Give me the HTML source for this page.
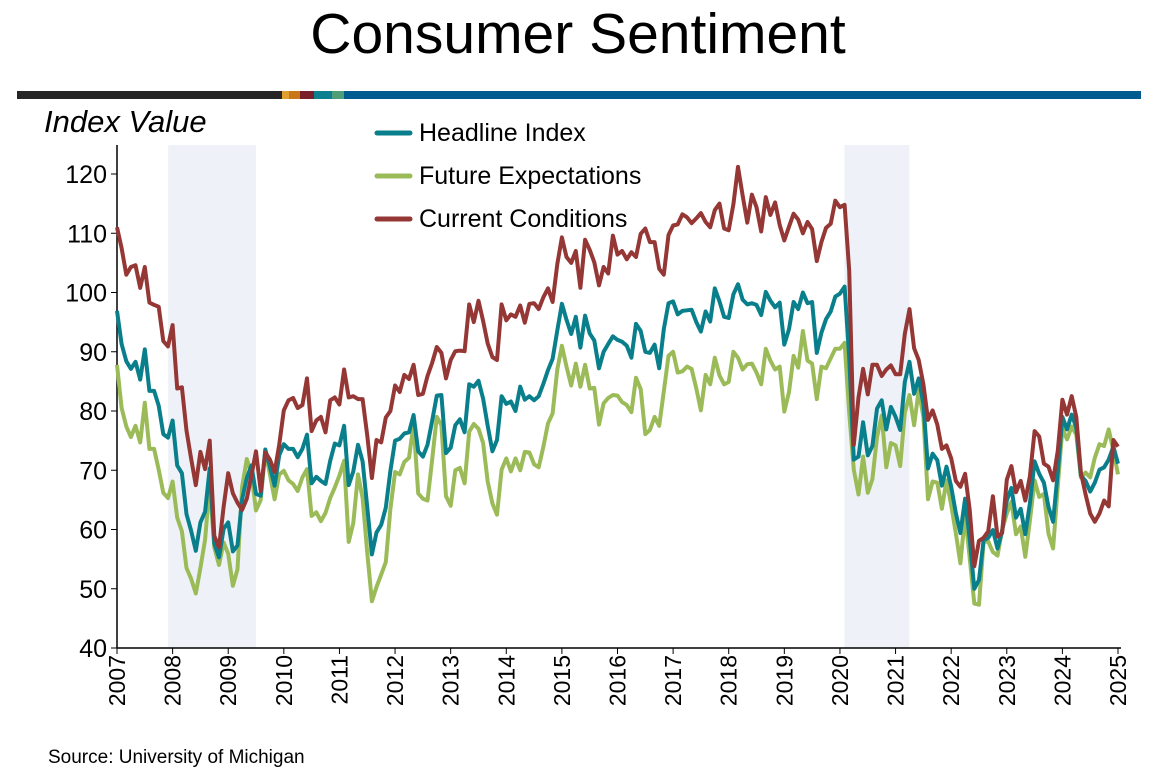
<!DOCTYPE html>
<html><head><meta charset="utf-8"><style>
body{margin:0;background:#fff;font-family:"Liberation Sans",Arial,sans-serif}
svg text{font-family:"Liberation Sans",Arial,sans-serif}
</style></head><body>
<svg id="c" width="1149" height="773" xmlns="http://www.w3.org/2000/svg">
<text x="578" y="53" font-size="57" text-anchor="middle">Consumer Sentiment</text>
<g>
<rect x="17" y="91" width="265" height="8" fill="#262626"/>
<rect x="282" y="91" width="7" height="8" fill="#e0a030"/>
<rect x="289" y="91" width="11" height="8" fill="#c87818"/>
<rect x="300" y="91" width="14" height="8" fill="#7a1e2a"/>
<rect x="314" y="91" width="18" height="8" fill="#0a8090"/>
<rect x="332" y="91" width="12" height="8" fill="#4f9e78"/>
<rect x="344" y="91" width="797" height="8" fill="#005b8e"/>
</g>
<text x="44" y="132" font-size="31" font-style="italic">Index Value</text>
<g id="shade"></g><g id="axes"></g><g id="lines"></g>
<g>
<g><line x1="377" y1="133" x2="410" y2="133" stroke="#0a7f8c" stroke-width="5" stroke-linecap="round"/><text x="419" y="141" font-size="25">Headline Index</text></g>
<g><line x1="377" y1="176" x2="410" y2="176" stroke="#9bbb59" stroke-width="5" stroke-linecap="round"/><text x="419" y="184" font-size="25">Future Expectations</text></g>
<g><line x1="377" y1="219" x2="410" y2="219" stroke="#953735" stroke-width="5" stroke-linecap="round"/><text x="419" y="227" font-size="25">Current Conditions</text></g>
</g>
<text x="48" y="763" font-size="19">Source: University of Michigan</text>
</svg>
<script>
const yTicks=[40,50,60,70,80,90,100,110,120];
const years=[2007,2008,2009,2010,2011,2012,2013,2014,2015,2016,2017,2018,2019,2020,2021,2022,2023,2024,2025];
const recessions=[[2007.92,2009.5],[2020.08,2021.25]];
const headline=[96.9,91.3,88.4,87.1,88.3,85.3,90.4,83.4,83.4,80.9,76.1,75.5,
78.4,70.8,69.5,62.6,59.8,56.4,61.2,63.0,70.3,57.6,55.3,60.1,
61.2,56.3,57.3,65.1,68.7,70.8,66.0,65.7,73.5,70.6,67.4,72.5,
74.4,73.6,73.6,72.2,73.6,76.0,67.8,68.9,68.2,67.7,71.6,74.5,
74.2,77.5,67.5,69.8,74.3,71.5,63.7,55.8,59.5,60.8,63.7,69.9,
75.0,75.3,76.2,76.4,79.3,73.2,72.3,74.3,78.3,82.6,82.7,72.9,
73.8,77.6,78.6,76.4,84.5,84.1,85.1,82.1,77.5,73.2,75.1,82.5,
81.2,81.6,80.0,84.1,81.9,82.5,81.8,82.5,84.6,86.9,88.8,93.6,
98.1,95.4,93.0,95.9,90.7,96.1,93.1,91.9,87.2,90.0,91.3,92.6,
92.0,91.7,91.0,89.0,94.7,93.5,90.0,89.8,91.2,87.2,93.8,98.2,
98.5,96.3,96.9,97.0,97.1,95.0,93.4,96.8,95.1,100.7,98.5,95.9,
95.7,99.7,101.4,98.8,98.0,98.2,97.9,96.2,100.1,98.6,97.5,98.3,
91.2,93.8,98.4,97.2,100.0,98.2,98.4,89.8,93.2,95.5,96.8,99.3,
99.8,101.0,89.1,71.8,72.3,78.1,72.5,74.1,80.4,81.8,76.9,80.7,
79.0,76.8,84.9,88.3,82.9,85.5,81.2,70.3,72.8,71.7,67.4,70.6,
67.2,62.8,59.4,65.2,58.4,50.0,51.5,58.2,58.6,59.9,56.8,59.7,
64.9,67.0,62.0,63.5,59.2,64.4,71.5,69.4,67.9,63.8,61.3,69.7,
79.0,76.9,79.4,77.2,69.1,68.2,66.4,67.9,70.1,70.5,71.8,74.0,71.1];
const future=[87.8,80.5,77.4,75.6,77.5,74.7,81.4,73.6,73.6,70.1,66.2,65.3,
68.1,62.0,59.7,53.5,51.7,49.2,53.5,58.3,67.7,57.0,54.0,57.8,
55.9,50.5,53.3,67.2,71.9,69.4,63.2,65.0,73.3,69.3,65.1,69.3,
69.9,68.3,67.7,66.5,68.8,70.2,62.3,62.9,61.4,62.8,65.3,67.1,
69.1,71.6,57.9,61.1,69.3,65.3,56.0,47.9,50.3,52.4,54.5,63.5,
69.7,69.3,71.4,72.1,77.8,66.1,65.2,64.9,71.7,79.0,77.6,65.6,
64.0,70.0,70.4,67.8,76.5,77.8,77.0,74.6,68.1,64.4,62.5,70.1,
72.0,69.8,72.0,70.0,73.1,73.0,71.0,70.5,74.0,77.9,79.6,87.0,
91.0,87.5,84.3,88.0,84.1,87.8,83.8,83.9,77.7,81.3,82.2,82.7,
82.6,81.5,81.0,79.8,85.6,83.7,76.1,76.8,79.0,77.5,83.3,89.3,
90.0,86.5,86.7,87.5,87.1,83.8,80.1,86.1,84.5,89.0,86.0,84.5,
84.9,90.0,89.0,87.0,87.9,88.0,86.5,84.5,90.5,88.5,87.0,87.5,
79.9,83.2,89.3,87.3,93.5,88.5,88.0,82.0,87.5,87.2,88.9,90.5,
90.5,91.5,79.7,70.1,65.9,72.3,66.2,68.5,75.6,79.2,70.5,74.6,
74.2,70.7,79.7,82.7,77.6,83.5,79.0,65.1,68.1,67.9,63.5,68.3,
64.1,59.4,54.3,62.5,55.2,47.5,47.3,57.9,58.0,56.2,55.6,59.9,
62.7,64.7,59.2,60.5,55.4,61.5,68.3,65.5,66.0,59.3,56.8,67.4,
77.1,75.2,77.4,76.0,68.8,69.6,68.8,72.1,74.4,74.1,76.9,73.3,69.3];
const current=[111.0,107.5,103.0,104.3,104.6,100.8,104.3,98.3,97.9,97.6,91.8,90.9,
94.5,83.8,84.0,76.7,72.0,67.5,73.1,70.2,75.0,58.9,57.0,63.8,
69.5,66.1,64.5,63.3,65.2,69.1,73.2,66.5,73.0,71.8,69.7,74.3,
80.1,81.8,82.2,80.5,81.0,85.5,76.6,78.4,79.0,76.4,81.8,82.3,
81.1,87.0,82.3,82.5,82.0,82.0,75.8,68.7,75.1,74.7,78.9,80.0,
84.3,83.2,86.1,85.4,87.8,82.7,82.9,85.9,88.1,90.8,89.8,85.5,
88.6,90.1,90.2,90.1,98.0,95.0,98.6,95.2,91.4,89.1,88.6,98.0,
95.3,96.3,95.9,97.8,94.9,98.1,98.2,97.2,99.2,100.7,98.4,104.8,
109.3,106.0,105.0,107.0,100.8,108.9,107.2,105.1,101.2,104.3,103.2,109.6,
106.4,107.0,105.6,106.8,106.0,109.9,110.8,108.5,108.5,104.0,103.0,109.7,
111.3,111.5,113.2,112.7,111.7,112.5,113.4,111.9,111.0,113.9,115.0,110.8,
110.5,114.9,121.2,116.4,111.8,116.5,114.4,110.3,116.1,113.1,115.2,111.4,
108.8,111.1,113.3,112.3,110.0,111.9,110.7,105.3,108.5,110.9,111.6,115.5,
114.4,114.8,103.7,74.3,82.3,87.1,82.8,87.8,87.8,85.9,87.0,87.7,
86.2,86.2,93.0,97.2,90.6,88.6,84.5,78.5,80.1,77.7,73.6,74.2,
72.0,68.2,67.2,69.4,63.3,53.8,58.1,58.6,59.7,65.6,58.8,59.4,
68.4,70.7,66.3,68.2,64.9,69.0,76.6,75.7,71.1,70.6,68.3,73.3,
81.9,79.4,82.5,79.0,69.6,65.9,62.7,61.3,62.7,64.9,63.9,75.1,74.0];
const NS='http://www.w3.org/2000/svg';
const X0=117,X1=1118,Y0=648,Y1=174;
const xs=t=>X0+(t-2007)/18*(X1-X0);
const ys=v=>Y0+(v-40)/80*(Y1-Y0);
function mk(tag,attrs,parent){const e=document.createElementNS(NS,tag);for(const k in attrs)e.setAttribute(k,attrs[k]);parent.appendChild(e);return e;}
const shade=document.getElementById('shade'),axes=document.getElementById('axes'),lines=document.getElementById('lines');
recessions.forEach(r=>{const e=mk('rect',{x:xs(r[0]),y:145,width:xs(r[1])-xs(r[0]),height:Y0-145,fill:'#eef2f8'},shade);

});
let e=mk('line',{x1:X0,y1:145,x2:X0,y2:Y0,stroke:'#000','stroke-width':1.5},axes);


e=mk('line',{x1:X0,y1:Y0,x2:X1+3,y2:Y0,stroke:'#000','stroke-width':1.5},axes);


yTicks.forEach(v=>{mk('line',{x1:X0-6,x2:X0,y1:ys(v),y2:ys(v),stroke:'#000'},axes);
const t=mk('text',{x:X0-10,y:ys(v)+9,'font-size':25,'text-anchor':'end'},axes);t.textContent=v;

});
years.forEach(y=>{const x=xs(y);mk('line',{x1:x,x2:x,y1:Y0,y2:Y0+6,stroke:'#000'},axes);
const t=mk('text',{x:0,y:0,'font-size':23,'text-anchor':'end',transform:`translate(${x+8},${Y0+7}) rotate(-90)`},axes);t.textContent=y;

});
function series(d,color,name){const p=d.map((v,i)=>(i?'L':'M')+xs(2007+i/12).toFixed(1)+','+ys(v).toFixed(1)).join('');
const l=mk('path',{d:p,fill:'none',stroke:color,'stroke-width':4,'stroke-linejoin':'round'},lines);

}
series(future,'#9bbb59','future-expectations-line');
series(headline,'#0a7f8c','headline-index-line');
series(current,'#953735','current-conditions-line');
</script>
</body></html>
